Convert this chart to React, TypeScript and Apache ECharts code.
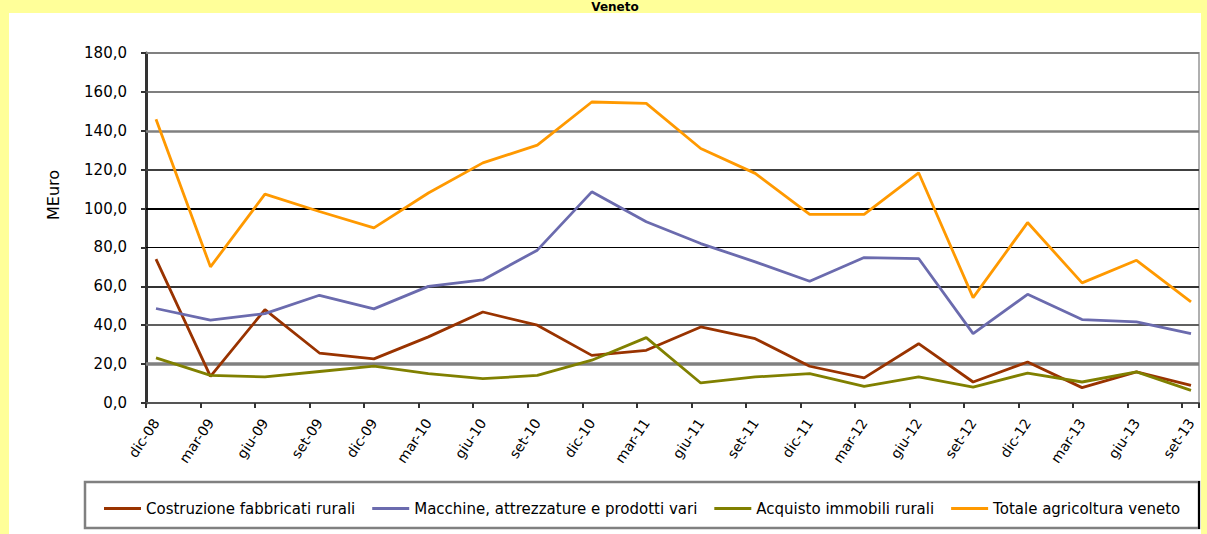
import React, { useEffect, useRef } from "react";
import * as echarts from "echarts";

const categories = [
  "dic-08", "mar-09", "giu-09", "set-09", "dic-09", "mar-10", "giu-10", "set-10", "dic-10", "mar-11",
  "giu-11", "set-11", "dic-11", "mar-12", "giu-12", "set-12", "dic-12", "mar-13", "giu-13", "set-13",
];
const costruzione = [74.0, 13.7, 48.0, 25.7, 22.7, 34.0, 46.8, 40.0, 24.5, 27.1, 39.1, 33.1, 18.9, 12.9, 30.5, 10.8, 21.1, 7.9, 16.0, 9.1];
const macchine = [48.6, 42.6, 46.0, 55.4, 48.4, 60.0, 63.3, 78.6, 108.6, 93.2, 82.0, 72.6, 62.6, 74.8, 74.3, 35.7, 55.9, 42.9, 41.7, 35.7];
const acquisto = [23.2, 14.2, 13.4, 16.2, 19.0, 15.1, 12.5, 14.2, 22.0, 33.6, 10.3, 13.4, 15.1, 8.6, 13.4, 8.2, 15.4, 10.8, 16.0, 6.5];
const totale = [145.9, 70.0, 107.4, 98.5, 90.1, 108.0, 123.5, 132.6, 154.8, 154.1, 130.9, 118.1, 97.0, 97.0, 118.4, 54.2, 92.8, 61.8, 73.4, 52.0];

const seriesNames = [
  "Costruzione fabbricati rurali",
  "Macchine, attrezzature e prodotti vari",
  "Acquisto immobili rurali",
  "Totale agricoltura veneto",
];
const seriesColors = ["#993300", "#6B6BAE", "#808000", "#FF9900"];
const yTicks = [20, 40, 60, 80, 100, 120, 140, 160, 180];
const gridStyles = [
  { color: "#808080", width: 3.5 },
  { color: "#606060", width: 2 },
  { color: "#333333", width: 2 },
  { color: "#000000", width: 1 },
  { color: "#000000", width: 2 },
  { color: "#404040", width: 2 },
  { color: "#808080", width: 2.5 },
  { color: "#555555", width: 1.5 },
  { color: "#808080", width: 2 },
];
const yAxisTitle = "MEuro";
const chartTitle = "Veneto";

export default function App() {
  const ref = useRef<HTMLDivElement>(null);
  useEffect(() => {
    if (!ref.current) return;
    const chart = echarts.init(ref.current, undefined, { renderer: "svg" });
    const font = "'DejaVu Sans', 'Liberation Sans', sans-serif";
    const data = [costruzione, macchine, acquisto, totale];
    chart.setOption({
      animation: false,
      backgroundColor: "#FFFF99",
      textStyle: { fontFamily: font },
      graphic: [
        { type: "rect", z: -100, shape: { x: 9, y: 13, width: 1192, height: 530 }, style: { fill: "#ffffff" } },
        {
          type: "text", x: 615, y: 1, z: 10,
          style: { text: chartTitle, font: `bold 12px ${font}`, fill: "#000", align: "center", verticalAlign: "top" },
        },
        {
          type: "text", x: 53, y: 195, rotation: Math.PI / 2, z: 10,
          style: { text: yAxisTitle, font: `16px ${font}`, fill: "#000", align: "center", verticalAlign: "middle" },
        },
        { type: "rect", z: -50, shape: { x: 85, y: 482, width: 1114, height: 46 }, style: { fill: "#fff", stroke: "#808080", lineWidth: 2.5 } },
        { type: "line", z: -40, shape: { x1: 1199, y1: 481, x2: 1199, y2: 529 }, style: { stroke: "#000", lineWidth: 2 } },
      ],
      legend: {
        data: seriesNames,
        left: 99,
        top: 496,
        icon: "rect",
        itemWidth: 37,
        itemHeight: 3,
        itemGap: 17,
        textStyle: { fontSize: 15, color: "#000", fontFamily: font },
      },
      grid: [
        { left: 156, right: 16, top: 53, bottom: 131 },
        { left: 146, right: 8, top: 53, bottom: 131, show: true, borderColor: "#b0b0b0", borderWidth: 2, backgroundColor: "transparent" },
      ],
      xAxis: [
        {
          type: "category", gridIndex: 0, data: categories, boundaryGap: false,
          axisLine: { show: false }, axisTick: { show: false }, splitLine: { show: false },
          axisLabel: { rotate: 56, fontSize: 14, color: "#000", margin: 17, interval: 0, fontFamily: font },
        },
        {
          type: "value", gridIndex: 1, min: 0, max: 19.31, interval: 1,
          axisLine: { show: true, lineStyle: { color: "#555", width: 2 } },
          axisTick: { show: true, length: 5, lineStyle: { color: "#333", width: 2 } },
          axisLabel: { show: false }, splitLine: { show: false },
        },
      ],
      yAxis: [
        { type: "value", gridIndex: 0, min: 0, max: 180, interval: 20, show: false, splitLine: { show: false } },
        {
          type: "value", gridIndex: 1, min: 0, max: 180, interval: 20,
          axisLine: { show: true, lineStyle: { color: "#333", width: 3 } },
          axisTick: { show: true, length: 5, lineStyle: { color: "#333", width: 2 } },
          splitLine: { show: false },
          axisLabel: {
            fontSize: 15, color: "#000", margin: 19, fontFamily: font,
            formatter: (v: number) => v.toFixed(1).replace(".", ","),
          },
        },
      ],
      series: [
        {
          type: "line", name: "grid", xAxisIndex: 1, yAxisIndex: 1, data: [], silent: true,
          markLine: {
            silent: true, symbol: "none", label: { show: false }, animation: false,
            data: yTicks.map((v, i) => ({ yAxis: v, lineStyle: { color: gridStyles[i].color, width: gridStyles[i].width, type: "solid" } })),
          },
        },
        ...seriesNames.map((n, i) => ({
          type: "line", name: n, xAxisIndex: 0, yAxisIndex: 0, data: data[i],
          showSymbol: false, symbol: "none", z: 5,
          lineStyle: { color: seriesColors[i], width: 2.8 },
          itemStyle: { color: seriesColors[i] },
        })),
      ],
    });
    return () => chart.dispose();
  }, []);
  return <div ref={ref} style={{ position: "fixed", left: 0, top: 0, width: 1207, height: 534 }} />;
}
